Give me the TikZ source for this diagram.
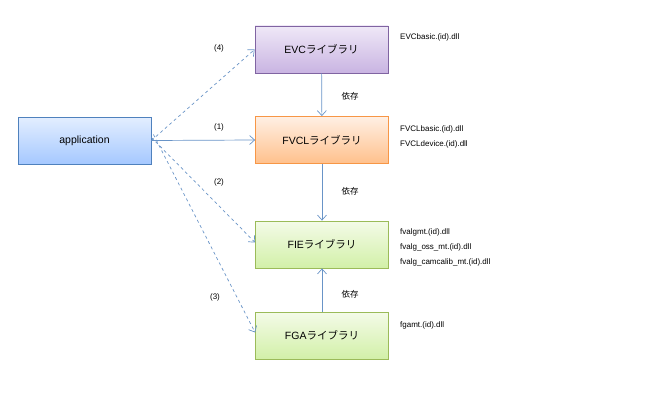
\documentclass[tikz,border=0pt]{standalone}
\usepackage{fontspec}
\setmainfont{Liberation Sans}
\newfontfamily\jp{Noto Sans CJK JP}
\usetikzlibrary{arrows.meta}
\definecolor{bl}{HTML}{4F81BD}
\definecolor{appT}{HTML}{E3EEFF}\definecolor{appB}{HTML}{A5C8FF}
\definecolor{evT}{HTML}{EFE8F7}\definecolor{evB}{HTML}{C9B4E2}\definecolor{evD}{HTML}{8064A2}
\definecolor{fvT}{HTML}{FFF0E4}\definecolor{fvB}{HTML}{FFC08C}\definecolor{fvD}{HTML}{F79646}
\definecolor{grT}{HTML}{F4FBE8}\definecolor{grB}{HTML}{D2F0A8}\definecolor{grD}{HTML}{9BBB59}
\begin{document}
\begin{tikzpicture}[x=1pt,y=-1pt,
 box/.style={draw=#1,line width=0.8pt,minimum width=133pt,minimum height=47pt,inner sep=0pt,font=\fontsize{10.5}{12}\selectfont},
 con/.style={draw=bl!85,line width=0.7pt,-{Straight Barb[length=5pt,width=9pt]}},
 lab/.style={font=\fontsize{8}{9}\selectfont,anchor=west,inner sep=0pt},
 num/.style={font=\fontsize{8}{9}\selectfont,inner sep=0pt},
 dep/.style={inner sep=0pt,font=\jp\fontsize{8.5}{9}\selectfont}]
\path[use as bounding box] (0,0) rectangle (647,404);
\node[box=bl,top color=appT,bottom color=appB] (app) at (84.5,140.5) {application};
\node[box=evD,top color=evT,bottom color=evB] (evc) at (321.5,49.5) {EVC{\jp ライブラリ}};
\node[box=fvD,top color=fvT,bottom color=fvB] (fvcl) at (322,140) {FVCL{\jp ライブラリ}};
\node[box=grD,top color=grT,bottom color=grB] (fie) at (322,244.5) {FIE{\jp ライブラリ}};
\node[box=grD,top color=grT,bottom color=grB] (fga) at (322,335.5) {FGA{\jp ライブラリ}};
\draw[con,dashed] (app.east) -- (evc.west);
\draw[con] (app.east) -- (fvcl.west);
\draw[con,dashed] ([yshift=3pt]app.east) -- ([yshift=2pt]fie.west);
\draw[con,dashed] ([yshift=6pt,xshift=2pt]app.east) -- ([yshift=3pt]fga.west);
\draw[con] (evc) -- (fvcl);
\draw[con] (fvcl) -- (fie);
\draw[con] (fga) -- (fie);
\node[num] (n4) at (219,48) {(4)};
\node[num] (n1) at (219,127) {(1)};
\node[num] (n2) at (219,182) {(2)};
\node[num] (n3) at (215,297) {(3)};
\node[dep] (d1) at (350,96) {依存};
\node[dep] (d2) at (350,191) {依存};
\node[dep] (d3) at (350,294) {依存};
\node[lab] (t1) at (400,37) {EVCbasic.(id).dll};
\node[lab] (t2) at (400,129) {FVCLbasic.(id).dll};
\node[lab] (t3) at (400,144) {FVCLdevice.(id).dll};
\node[lab] (t4) at (400,232) {fvalgmt.(id).dll};
\node[lab] (t5) at (400,247) {fvalg\_oss\_mt.(id).dll};
\node[lab] (t6) at (400,262) {fvalg\_camcalib\_mt.(id).dll};
\node[lab] (t7) at (400,325) {fgamt.(id).dll};
\end{tikzpicture}
\end{document}
